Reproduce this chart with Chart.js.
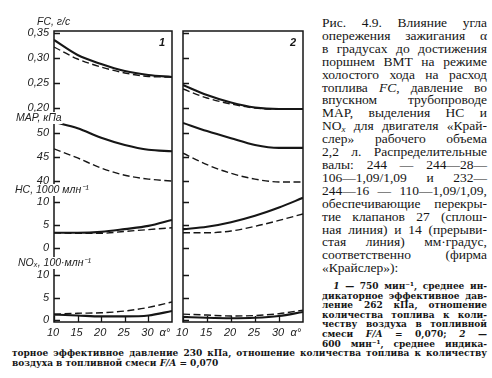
<!DOCTYPE html>
<html>
<head>
<meta charset="utf-8">
<script src="https://cdn.jsdelivr.net/npm/chart.js@4"></script>
<style>
body { margin: 0; background: #fff; }
#page { position: relative; width: 492px; height: 378px; overflow: hidden; background: #fff; color: #151515; }
canvas { position: absolute; top: 0; }
#c1 { left: 0; }
#c2 { left: 175px; }
.cap { position: absolute; left: 322px; top: 17px; width: 165px; font: 13.5px "Liberation Serif", serif; line-height: 12.9px; }
.small { position: absolute; left: 322px; top: 282px; width: 165px; font: bold 9px "DejaVu Serif", serif; line-height: 9.6px; }
.wide { position: absolute; left: 12px; top: 349px; width: 475px; font: bold 9px "DejaVu Serif", serif; line-height: 9.6px; }
.cap div, .small div, .wide div { white-space: nowrap; text-align: justify; text-align-last: justify; }
div.l { text-align: left !important; text-align-last: left !important; }
.sub { font-size: 9px; vertical-align: -2px; line-height: 0; font-style: italic; }
</style>
</head>
<body>
<div id="page">
  <canvas id="c1" width="180" height="345"></canvas>
  <canvas id="c2" width="140" height="345"></canvas>
  <div class="cap">
    <div>Рис. 4.9. Влияние угла</div>
    <div>опережения зажигания α</div>
    <div>в градусах до достижения</div>
    <div>поршнем ВМТ на режиме</div>
    <div>холостого хода на расход</div>
    <div>топлива <i>FC</i>, давление во</div>
    <div>впускном трубопроводе</div>
    <div>MAP, выделения HC и</div>
    <div>NO<span class="sub">x</span> для двигателя «Край-</div>
    <div>слер» рабочего объема</div>
    <div>2,2 л. Распределительные</div>
    <div>валы: 244 — 244—28—</div>
    <div>106—1,09/1,09 и 232—</div>
    <div>244—16 — 110—1,09/1,09,</div>
    <div>обеспечивающие перекры-</div>
    <div>тие клапанов 27 (сплош-</div>
    <div>ная линия) и 14 (прерыви-</div>
    <div>стая линия) мм·градус,</div>
    <div>соответственно (фирма</div>
    <div class="l">«Крайслер»):</div>
  </div>
  <div class="small">
    <div>&nbsp;&nbsp;<i>1</i> — 750 мин⁻¹, среднее ин-</div>
    <div>дикаторное эффективное дав-</div>
    <div>ление 262 кПа, отношение</div>
    <div>количества топлива к коли-</div>
    <div>честву воздуха в топливной</div>
    <div>смеси <i>F/A</i> = 0,070; <i>2</i> —</div>
    <div>600 мин⁻¹, среднее индика-</div>
  </div>
  <div class="wide">
    <div>торное эффективное давление 230 кПа, отношение количества топлива к количеству</div>
    <div class="l">воздуха в топливной смеси <i>F/A</i> = 0,070</div>
  </div>
</div>
<script>
const angles = [10, 15, 20, 25, 30, 35];
const xTicks = [10, 15, 20, 25, 30];
const fcTicks = [0.20, 0.25, 0.30, 0.35];
const mapTicks = [40, 45, 50];
const hcTicks = [0, 5, 10];
const noxTicks = [0, 5, 10];

// panel 1 (750 мин-1): solid = overlap 27, dashed = overlap 14
const fcSolid1 = [0.336, 0.306, 0.288, 0.274, 0.266, 0.262];
const fcDash1 = [0.322, 0.298, 0.282, 0.270, 0.263, 0.262];
const mapSolid1 = [52.3, 51.0, 49.0, 47.5, 46.5, 46.2];
const mapDash1 = [46.7, 44.8, 42.7, 41.2, 40.4, 40.0];
const hcSolid1 = [3.3, 3.3, 3.5, 4.1, 4.8, 6.1];
const hcDash1 = [3.3, 3.2, 3.2, 3.6, 4.0, 4.4];
const noxSolid1 = [1.2, 1.0, 0.8, 0.8, 1.0, 2.0];
const noxDash1 = [1.3, 1.5, 1.6, 2.0, 2.8, 4.0];

// panel 2 (600 мин-1)
const fcSolid2 = [0.246, 0.226, 0.211, 0.201, 0.198, 0.198];
const fcDash2 = [0.238, 0.220, 0.208, 0.200, 0.198, 0.198];
const mapSolid2 = [52.1, 50.4, 48.9, 47.5, 46.9, 46.9];
const mapDash2 = [45.8, 43.4, 41.6, 40.4, 39.8, 39.8];
const hcSolid2 = [4.1, 4.6, 5.6, 7.0, 8.8, 10.9];
const hcDash2 = [3.3, 3.3, 3.7, 4.7, 6.0, 7.4];
const noxSolid2 = [0.7, 0.5, 0.4, 0.5, 0.9, 1.8];
const noxDash2 = [1.3, 1.1, 0.9, 1.0, 1.4, 2.2];

const ink = '#161616';
const axisTicks = { fc: fcTicks, map: mapTicks, hc: hcTicks, nox: noxTicks };
const fmtFc = v => v.toFixed(2).replace('.', ',');

function line(vals, axis, dashed) {
    return {
        data: angles.map((a, i) => ({ x: a, y: vals[i] })),
        yAxisID: axis,
        borderColor: ink,
        borderWidth: dashed ? 1.4 : 2.1,
        borderDash: dashed ? [7, 3.5] : [],
        pointRadius: 0,
        tension: 0.4,
        cubicInterpolationMode: 'monotone',
        fill: false
    };
}

function drawLabel(ctx, text, x, y, bg) {
    ctx.font = 'italic 10.5px "Liberation Sans"';
    ctx.textBaseline = 'middle';
    ctx.textAlign = 'left';
    if (bg) {
        ctx.fillStyle = '#fff';
        ctx.fillRect(x - 1, y - 6, ctx.measureText(text).width + 2, 12);
    }
    ctx.fillStyle = '#222';
    ctx.fillText(text, x, y);
}

// frame, inward tick marks, tick labels and axis titles
function framePlugin(panelNo, showLabels, titles) {
    return {
        id: 'frame' + panelNo,
        afterDatasetsDraw(chart) {
            const a = chart.chartArea;
            const ctx = chart.ctx;
            const xs = chart.scales.x;
            ctx.save();
            ctx.strokeStyle = ink;
            ctx.lineWidth = 1.5;
            ctx.strokeRect(a.left, a.top, a.right - a.left, a.bottom - a.top);
            ctx.lineWidth = 1.3;
            ctx.beginPath();
            Object.keys(axisTicks).forEach(id => {
                const sc = chart.scales[id];
                axisTicks[id].forEach(v => {
                    const y = Math.round(sc.getPixelForValue(v)) + 0.5;
                    ctx.moveTo(a.left, y);
                    ctx.lineTo(a.left + 6, y);
                });
            });
            xTicks.forEach(v => {
                const x = Math.round(xs.getPixelForValue(v)) + 0.5;
                ctx.moveTo(x, a.bottom);
                ctx.lineTo(x, a.bottom - 6);
            });
            ctx.stroke();
            ctx.restore();
        },
        afterDraw(chart) {
            const a = chart.chartArea;
            const ctx = chart.ctx;
            const xs = chart.scales.x;
            ctx.save();
            ctx.font = 'bold italic 11px "Liberation Sans"';
            ctx.fillStyle = ink;
            ctx.textAlign = 'right';
            ctx.textBaseline = 'middle';
            ctx.fillText(String(panelNo), a.right - 7, a.top + 12);

            ctx.font = 'italic 11px "Liberation Sans"';
            ctx.fillStyle = '#222';
            ctx.textAlign = 'center';
            xTicks.forEach(v => ctx.fillText(String(v), xs.getPixelForValue(v) - 1, a.bottom + 11));
            ctx.fillText('α°', xs.getPixelForValue(33.5), a.bottom + 11);

            if (showLabels) {
                ctx.textAlign = 'right';
                Object.keys(axisTicks).forEach(id => {
                    const sc = chart.scales[id];
                    axisTicks[id].forEach(v => {
                        ctx.fillText(id === 'fc' ? fmtFc(v) : String(v), a.left - 5, sc.getPixelForValue(v));
                    });
                });
            }
            titles.forEach(t => drawLabel(ctx, t[0], t[1], t[2], t[3]));
            ctx.restore();
        }
    };
}

function yScale(min, max) {
    return { type: 'linear', display: false, min: min, max: max };
}

function makePanel(id, padL, padR, panelNo, showLabels, s) {
    const titles = showLabels ? [
        ['FC, г/с', 37, 22, false],
        ['MAP, кПа', 16, 118, true],
        ['HC, 1000 млн⁻¹', 15, 190, true],
        ['NOₓ, 100·млн⁻¹', 18, 263, true]
    ] : [];
    return new Chart(document.getElementById(id), {
        type: 'line',
        data: {
            datasets: [
                line(s.fcS, 'fc', false), line(s.fcD, 'fc', true),
                line(s.mapS, 'map', false), line(s.mapD, 'map', true),
                line(s.hcS, 'hc', false), line(s.hcD, 'hc', true),
                line(s.noxS, 'nox', false), line(s.noxD, 'nox', true)
            ]
        },
        options: {
            responsive: false,
            animation: false,
            devicePixelRatio: 1,
            layout: { padding: { left: padL, right: padR, top: 31, bottom: 23 } },
            plugins: { legend: { display: false }, tooltip: { enabled: false } },
            scales: {
                x: { type: 'linear', display: false, min: 10, max: 35 },
                fc: yScale(-0.228, 0.354),
                map: yScale(10.625, 71.25),
                hc: yScale(-16.09, 47.17),
                nox: yScale(-0.44, 64.2)
            }
        },
        plugins: [framePlugin(panelNo, showLabels, titles)]
    });
}

makePanel('c1', 54, 8, 1, true, {
    fcS: fcSolid1, fcD: fcDash1, mapS: mapSolid1, mapD: mapDash1,
    hcS: hcSolid1, hcD: hcDash1, noxS: noxSolid1, noxD: noxDash1
});
makePanel('c2', 8, 12, 2, false, {
    fcS: fcSolid2, fcD: fcDash2, mapS: mapSolid2, mapD: mapDash2,
    hcS: hcSolid2, hcD: hcDash2, noxS: noxSolid2, noxD: noxDash2
});
</script>
</body>
</html>
